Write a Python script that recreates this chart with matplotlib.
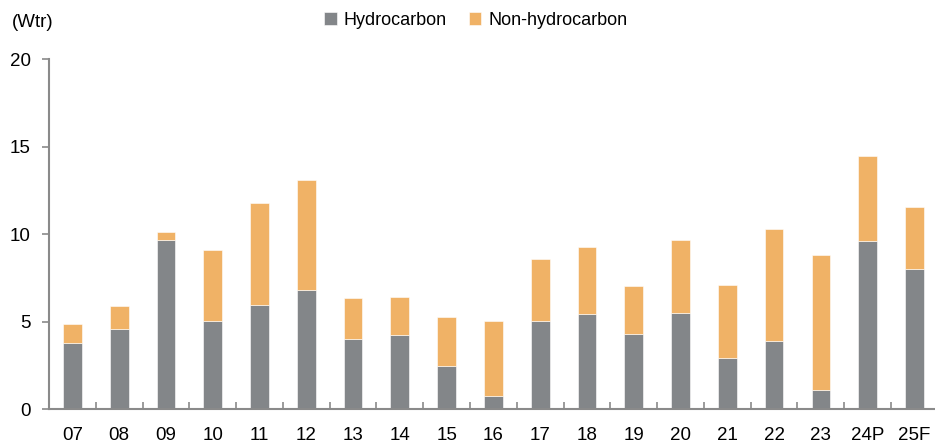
import matplotlib.pyplot as plt
import numpy as np

plt.rcParams['font.family'] = ['Liberation Sans', 'DejaVu Sans']

# Data
years = ['07', '08', '09', '10', '11', '12', '13', '14', '15', '16',
         '17', '18', '19', '20', '21', '22', '23', '24P', '25F']
hydrocarbon = [3.78, 4.56, 9.63, 5.01, 5.93, 6.78, 3.99, 4.22, 2.45, 0.74,
               5.01, 5.41, 4.31, 5.51, 2.91, 3.91, 1.06, 9.62, 8.02]
total = [4.86, 5.87, 10.09, 9.06, 11.8, 13.1, 6.32, 6.38, 5.24, 5.01,
         8.55, 9.23, 7.05, 9.64, 7.06, 10.27, 8.81, 14.46, 11.53]
non_hydrocarbon = [t - h for t, h in zip(total, hydrocarbon)]

gray = '#838689'
orange = '#F0B266'
axis_color = '#8a8a8a'

fig = plt.figure(figsize=(9.35, 4.47), dpi=100)
ax = fig.add_axes([0.0524, 0.085, 0.9476, 0.783])

x = np.arange(len(years))
ax.bar(x, hydrocarbon, width=0.4, color=gray, edgecolor='white', linewidth=0.4,
       label='Hydrocarbon')
ax.bar(x, non_hydrocarbon, width=0.4, bottom=hydrocarbon, color=orange,
       edgecolor='white', linewidth=0.4, label='Non-hydrocarbon')

ax.set_xlim(-0.5, 18.44)
ax.set_ylim(0, 20)
ax.set_yticks([0, 5, 10, 15, 20])

# x labels centered, tick marks between categories
ax.set_xticks(x)
ax.set_xticklabels(years)
ax.tick_params(axis='x', which='major', length=0, pad=13, labelsize=13.5)
ax.set_xticks(np.arange(0.5, len(years) - 1, 1), minor=True)
ax.tick_params(axis='x', which='minor', direction='in', length=5,
               color=axis_color, width=1.2)
ax.tick_params(axis='y', direction='out', length=5, color=axis_color,
               width=1.2, pad=8, labelsize=13.5)

for side in ['top', 'right']:
    ax.spines[side].set_visible(False)
for side in ['left', 'bottom']:
    ax.spines[side].set_color(axis_color)
    ax.spines[side].set_linewidth(1.5)

fig.text(0.013, 0.95, '(Wtr)', fontsize=13.5, va='center', ha='left')

fig.legend(loc='upper center', bbox_to_anchor=(0.509, 1.01), ncol=2,
           frameon=False, fontsize=13, handlelength=0.7, handleheight=0.7,
           handletextpad=0.4, columnspacing=1.2)

plt.savefig('out.png', dpi=100)
